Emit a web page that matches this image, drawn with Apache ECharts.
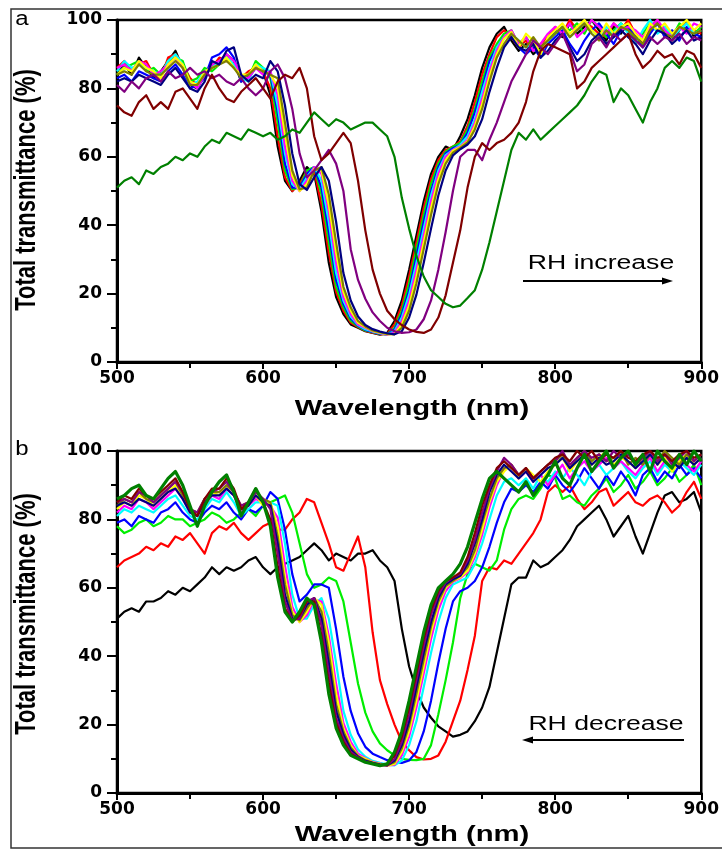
<!DOCTYPE html>
<html>
<head>
<meta charset="utf-8">
<script src="https://cdn.jsdelivr.net/npm/echarts/dist/echarts.min.js"></script>
<style>
html,body{margin:0;padding:0;background:#fff}
#chart{width:722px;height:851px}
</style>
</head>
<body>
<div id="chart"></div>
<script>
// Wavelength grid (nm), shared by every spectrum
const wavelength = [
  500,505,510,515,520,525,530,535,540,545,
  550,555,560,565,570,575,580,585,590,595,
  600,605,610,615,620,625,630,635,640,645,
  650,655,660,665,670,675,680,685,690,695,
  700,705,710,715,720,725,730,735,740,745,
  750,755,760,765,770,775,780,785,790,795,
  800,805,810,815,820,825,830,835,840,845,
  850,855,860,865,870,875,880,885,890,895,
  900
];

const xTicks = [500, 600, 700, 800, 900];
const yTicks = [0, 20, 40, 60, 80, 100];

// Panel a: total transmittance (%) while RH increases
const aBlack = [
  85,87,84,89,86,83,85,88,91,86, 81,80,84,87,88,90,88,82,84,87,
  85,78,63,53,50,53,57,55,44,29, 19,14,11,10,9,8.5,8,8.5,12,18,
  27,37,47,55,60,63,62,66,71,78, 86,92,96,98,94,91,93,90,92,94,
  97,95,99,96,98,100,97,94,98,96, 99,95,93,97,99,96,94,97,100,95, 97];
const aRed = [
  86,88,85,87,88,84,83,89,90,87, 83,81,85,86,89,88,87,83,85,86,
  85,80,66,54,50,52,56,56,46,32, 20.5,15,11.5,10.2,9.1,8.6,8.1,8.2,11,16.5,
  25,35,45,53.5,59,62,63,64.5,69,76, 84,90,95,97,95,92,94,91,93,95,
  98,96,100,97,99,98,96,95,99,97, 100,96,94,98,100,95,96,98,99,97, 96];
const aGreen = [
  84,86,87,88,85,86,84,88,89,88, 82,83,86,85,87,89,86,84,83,88,
  86,83,70,56,50.5,51,56,57,49,35, 22,16,12,10.4,9.2,8.7,8.2,8.1,10,15,
  23,33,43,52,58,61.5,63,64,68,74, 82,89,93,96,97,93,95,92,91,94,
  96,98,97,99,96,100,98,95,97,99, 97,94,96,99,97,98,95,99,97,96, 98];
const aBlue = [
  83,84,82,85,84,83,82,85,87,84, 80,81,83,89,90,92,89,82,83,86,
  85,84,73,58,51,51,55,57,51,38, 24,17,12.7,10.6,9.4,8.8,8.3,8.1,9.5,14,
  21,31,41,50,57,61,62.5,63.5,67,73, 80,88,92,95,96,92,90,92,89,93,
  95,97,93,90,94,97,99,96,93,97, 98,95,92,96,99,95,97,94,98,96, 95];
const aCyan = [
  85,88,86,87,86,85,84,88,90,87, 81,82,85,86,88,89,87,83,82,87,
  86,85,75,61,52,50.5,54,57,53,41, 26,18,13.3,10.8,9.6,8.9,8.4,8.1,9,13,
  19.7,29,39,48.7,56,60.5,62,63.5,66,71, 79,86,92,95,96,94,92,93,90,94,
  96,98,95,97,99,97,95,98,96,99, 96,93,97,100,96,98,95,97,99,96, 97];
const aMagenta = [
  86,87,85,88,87,84,85,87,89,86, 82,80,84,87,88,90,88,84,83,86,
  84,85,78,63,53,50,53,57,55,44, 29,19,14,11,10,9,8.5,8,8.5,12,
  18,27,37,47,55,60,62,63,65,70, 77,85,91,95,97,93,95,91,93,96,
  98,96,99,95,97,100,98,96,99,97, 98,97,95,98,100,97,95,98,96,99, 98];
const aYellow = [
  84,86,85,88,86,85,83,87,89,87, 82,81,85,86,87,89,86,84,84,87,
  85,84,80.5,66.5,54.5,50,52,56.5,56,46, 32,20.5,15,11.5,10.2,9.1,8.6,8.1,8.2,11,
  16.5,25,35,45,53.5,59,61.8,62.8,64.5,69, 75.5,83.5,90,94.5,96.5,92,96,94,90,95,
  97,99,96,98,100,97,95,99,96,98, 99,96,94,99,97,99,96,98,100,97, 99];
const aDarkYellow = [
  84,85,84,87,85,84,84,86,88,86, 81,81,84,86,87,88,86,83,84,86,
  85,84,83,70,56,50.5,51,56,57,49, 35,22,16,12,10.4,9.2,8.7,8.2,8.1,10,
  15,23,33,43,52,58,61.2,62.6,64.2,68, 74,82,89,93,96,94,92,95,92,94,
  96,98,95,97,99,96,94,97,95,98, 97,95,93,97,99,96,95,98,97,96, 97];
const aNavy = [
  82,83,82,84,83,82,81,84,86,83, 80,79,82,88,87,91,92,84,82,84,
  83,88,85,75,61,52,50.3,54,57,53, 41,26,18,13.3,10.8,9.6,8.9,8.4,8.1,9,
  13,19.7,29,39,48.7,56,60.4,62.2,63.6,66, 71,79,86,92,95,92,91,93,89,91,
  94,96,92,88,90,94,96,93,95,97, 95,93,90,94,97,96,93,95,97,94, 95];
const aPurple = [
  81,79,82,80,83,84,82,85,83,84, 86,84,85,83,84,82,81,83,80,78,
  80,85,87,83,74,61,54,56,59,62, 58,50,33,24,18.5,14.5,12,10,9,8.5,
  8.7,9.5,12.5,18,27,38,50,60,62,62, 59,65,70,76,82,86,90,94,92,90,
  93,96,91,85,87,93,95,92,96,94, 96,94,92,95,93,95,94,96,93,95, 94];
const aWine = [
  75,73,72,76,78,74,76,74,79,80, 77,74,80,84,80,77,76,79,81,83,
  80,77,82,84,83,86,80,66,59,61, 64,67,64,53,38.5,27,20,15,12.5,10.8,
  9.5,8.8,8.5,9.5,13,19.5,29,38.5,51,60, 64,62,64,65,67,70,76,85,91,93,
  92,91,90,80,82,86,88,90,92,94, 96,90,86,88,91,89,90,87,91,90, 86];
const aOlive = [
  51,53,54,52,56,55,57,58,60,59, 61,60,63,65,64,67,66,65,68,67,
  66,67,65,66,68,67,70,73,71,69, 71,70,68,69,70,70,68,66,60,48,
  39,31,25,21,19,17,16,16.5,18.7,21, 27,35,44,53,62,67,65,68,65,67,
  69,71,73,75,78,82,85,84,76,80, 78,74,70,76,80,86,88,86,89,88, 82];

// Panel b: total transmittance (%) while RH decreases
const bBlack = [
  51,53,54,53,56,56,57,59,58,60, 59,61,63,66,64,66,65,66,68,69,
  66,64,66,67,68,69,71,73,71,68, 70,69,68,70,70,71,68,66,62,48,
  37,30,25,22,19.5,18,16.5,17,18,21, 25,31,41,51,61,63,63,68,66,67,
  69,71,74,78,80,82,84,80,75,78, 81,75,70,76,82,87,88,85,86,88, 82];
const bRed = [
  66,68,69,70,72,71,73,72,75,74, 76,73,70,76,78,77,79,76,74,76,
  78,79,77,77,80,82,86,85,79,73, 66,65,70,75,66,47,33,26,20,15,
  12.5,10.5,9.8,10,11,15,21,27,36,46, 62,66,65.4,68,67,70,73,76,80,88,
  90,88,90,86,83,85,88,89,84,86, 88,85,84,86,87,85,82,84,88,91, 86];
const bGreen = [
  78,76,77,79,80,78,79,81,80,80, 78,79,80,82,81,79,80,82,83,81,
  84,85,86,87,82,73,64,60,61,63, 62,56,44,32,23.5,18,14.5,12.5,11,10,
  9.7,9.6,10,14,23,33,44,57,64,67, 66,65,68,77,83,86,87,86,89,93,
  92,86,87,85,84,87,89,92,88,90, 93,89,91,94,90,92,95,91,93,96, 90];
const bBlue = [
  79,80,78,81,80,79,82,83,85,82, 80,79,82,84,83,85,82,80,83,82,
  84,88,86,77,64,56,58,61,61,60, 48,34,24,17.5,13.5,11.5,10.5,9.6,9,8.8,
  9.5,12,18,27,38,48,56,59,60,62, 66,72,79,85,89,88,90,88,91,89,
  93,90,88,91,95,92,89,93,90,94, 91,87,93,95,91,94,92,96,93,95, 92];
const bCyan = [
  81,83,82,84,83,82,84,86,87,84, 81,80,83,86,85,88,85,81,83,85,
  85,85,84,73,58,51,51,55,57,51, 38,24,17,12.7,10.6,9.4,8.8,8.3,8.1,9.5,
  14,21,31,41,50,57,61,62,63,67, 73,80,87,91,92,90,92,89,93,91,
  94,92,95,93,90,94,96,93,95,97, 94,92,95,97,93,96,94,97,95,93, 96];
const bMagenta = [
  82,84,83,86,85,83,85,87,89,86, 82,81,84,87,86,89,87,82,84,86,
  85,84,80.5,66.5,54.5,50,52,56.5,56,46, 32,20.5,15,11.5,10.2,9.1,8.6,8.1,8.2,11,
  16.5,25,35,45,53.5,59,61.8,62.8,64.5,69, 75.5,83.5,90,94.5,96,92,94,91,93,90,
  93,96,92,95,97,94,96,98,95,97, 95,93,96,98,94,97,95,98,96,94, 97];
const bYellow = [
  83,85,84,87,86,84,86,88,90,87, 82,82,85,88,87,90,88,83,84,87,
  84,85,78,63,53,50,53,57,55,44, 29,19,14,11,10,9,8.5,8,8.5,12,
  18,27,37,47,55,60,62,63,65,70, 77,85,91,94,96,92,95,93,91,94,
  96,98,94,97,99,96,98,100,96,98, 97,95,98,99,96,98,94,97,99,96, 98];
const bDarkYellow = [
  84,86,85,88,86,85,87,89,91,87, 83,82,86,88,88,90,88,84,85,88,
  86,85,75,61,52,50.5,54,57,53,41, 26,18,13.3,10.8,9.6,8.9,8.4,8.1,9,13,
  19.7,29,39,48.7,56,60.5,62,63.5,66,71, 79,86,92,95,96,93,95,92,94,96,
  97,99,95,98,100,97,99,97,98,100, 96,98,96,99,97,100,98,96,99,97, 99];
const bNavy = [
  84,85,84,86,85,84,86,88,89,86, 82,81,85,87,87,89,87,83,84,87,
  85,84,73,58,51,51,55,57,51,38, 24,17,12.7,10.6,9.4,8.8,8.3,8.1,9.5,14,
  21,31,41,50,57,61,62.5,63.5,67,73, 80,88,93,96,94,92,94,91,93,95,
  96,98,95,97,99,96,98,96,97,99, 97,95,97,99,96,99,97,95,98,96, 98];
const bPurple = [
  85,86,85,88,87,85,87,89,91,88, 83,82,86,88,89,91,88,84,85,88,
  86,83,70,56,50.5,51,56,57,49,35, 22,16,12,10.4,9.2,8.7,8.2,8.1,10,15,
  23,33,43,52,58,61.5,63,64,68,74, 82,89,94,98,96,93,95,92,94,96,
  97,100,96,98,100,98,99,97,100,98, 99,96,98,100,97,99,96,98,100,97, 99];
const bWine = [
  85,87,86,89,87,86,88,90,92,88, 83,81,86,89,89,92,89,83,85,89,
  85,80,66,54,50,52,56,56,46,32, 20.5,15,11.5,10.2,9.1,8.6,8.1,8.2,11,16.5,
  25,35,45,53.5,59,62,63,64.5,69,76, 84,90,95,97,95,93,95,92,94,96,
  98,99,97,100,98,100,97,99,98,100, 98,97,99,100,98,99,97,99,100,98, 99];
const bOlive = [
  86,87,89,90,87,86,89,92,94,90, 84,78,84,88,91,93,88,81,85,89,
  85,78,63,53,50,53,57,55,44,29, 19,14,11,10,9,8.5,8,8.5,12,18,
  27,37,47,55,60,62,64,67,72,79, 86,92,94,92,90,88,91,87,90,93,
  97,92,90,95,99,94,97,100,95,98, 100,96,99,94,100,97,95,99,96,100, 97];

// Origin-style colour increment
const curveColors = ['#000000','#ff0000','#00ee00','#0000ff','#00ffff','#ff00ff',
                     '#ffff00','#808000','#000080','#800080','#800000','#008000'];

const panelA = [aBlack, aRed, aGreen, aBlue, aCyan, aMagenta, aYellow, aDarkYellow, aNavy, aPurple, aWine, aOlive];
const panelB = [bBlack, bRed, bGreen, bBlue, bCyan, bMagenta, bYellow, bDarkYellow, bNavy, bPurple, bWine, bOlive];

const chart = echarts.init(document.getElementById('chart'), null, {renderer: 'canvas'});

function xAxisFor(gi) {
  return {
    type: 'value', gridIndex: gi,
    min: xTicks[0], max: xTicks[xTicks.length - 1], interval: xTicks[1] - xTicks[0],
    axisLine: {onZero: false, lineStyle: {color: '#000', width: 3}},
    axisTick: {inside: false, length: 7, lineStyle: {color: '#000', width: 2}},
    minorTick: {show: true, splitNumber: 2, length: 6, lineStyle: {color: '#000', width: 2}},
    splitLine: {show: false},
    axisLabel: {margin: 8, color: '#000', fontFamily: 'DejaVu Sans', fontWeight: 'bold', fontSize: 17}
  };
}
function yAxisFor(gi) {
  return {
    type: 'value', gridIndex: gi,
    min: yTicks[0], max: yTicks[yTicks.length - 1], interval: yTicks[1] - yTicks[0],
    axisLine: {onZero: false, lineStyle: {color: '#000', width: 3}},
    axisTick: {inside: false, length: 10, lineStyle: {color: '#000', width: 2}},
    minorTick: {show: true, splitNumber: 2, length: 6, lineStyle: {color: '#000', width: 2}},
    splitLine: {show: false},
    axisLabel: {margin: 15, color: '#000', fontFamily: 'DejaVu Sans', fontWeight: 'bold', fontSize: 17}
  };
}

function spectra(list, gi, widths) {
  return list.map((vals, k) => ({
    type: 'line', xAxisIndex: gi, yAxisIndex: gi,
    name: (gi === 0 ? 'a' : 'b') + (k + 1),
    data: wavelength.map((w, i) => [w, vals[i]]),
    symbol: 'none', silent: true, clip: true,
    lineStyle: {color: curveColors[k], width: widths(k), join: 'round'},
    itemStyle: {color: curveColors[k]},
    z: 2 + k
  }));
}

function label(text, x, y, font, sx, extra) {
  return Object.assign({
    type: 'text', x: x, y: y, scaleX: sx, silent: true,
    style: {text: text, x: 0, y: 0, textAlign: 'center', textVerticalAlign: 'middle', font: font, fill: '#000'}
  }, extra || {});
}

const titleFont = 'bold 22px "Liberation Sans", Arial, sans-serif';
const noteFont = '20px "Liberation Sans", Arial, sans-serif';

const option = {
  animation: false,
  backgroundColor: '#ffffff',
  grid: [
    {left: 117, top: 20, width: 588, height: 342, show: true, borderColor: '#000', borderWidth: 2.5, backgroundColor: 'transparent'},
    {left: 117, top: 451, width: 588, height: 342, show: true, borderColor: '#000', borderWidth: 2.5, backgroundColor: 'transparent'}
  ],
  xAxis: [xAxisFor(0), xAxisFor(1)],
  yAxis: [yAxisFor(0), yAxisFor(1)],
  series: [].concat(
    spectra(panelA, 0, () => 2.2),
    spectra(panelB, 1, k => (k === panelB.length - 1 ? 3.2 : 2.2))
  ),
  graphic: [
    {type: 'rect', silent: true, shape: {x: 11, y: 9, width: 720, height: 839},
     style: {fill: 'none', stroke: '#333', lineWidth: 1.5}},
    label('a', 22, 19, '20px "Liberation Sans", Arial, sans-serif', 1.2),
    label('b', 22, 449, '20px "Liberation Sans", Arial, sans-serif', 1.2),
    label('Wavelength (nm)', 412, 409, titleFont, 1.33),
    label('Wavelength (nm)', 412, 835, titleFont, 1.33),
    label('Total transmittance (%)', 27, 190, titleFont, 1, {rotation: Math.PI / 2, scaleY: 1.3}),
    label('Total transmittance (%)', 27, 614, titleFont, 1, {rotation: Math.PI / 2, scaleY: 1.3}),
    label('RH increase', 601, 263, noteFont, 1.33),
    {type: 'line', silent: true, shape: {x1: 523, y1: 281, x2: 664, y2: 281}, style: {stroke: '#000', lineWidth: 2}},
    {type: 'polygon', silent: true, shape: {points: [[673, 281], [662, 277.5], [662, 284.5]]}, style: {fill: '#000'}},
    label('RH decrease', 606, 724, noteFont, 1.33),
    {type: 'line', silent: true, shape: {x1: 531, y1: 740, x2: 684, y2: 740}, style: {stroke: '#000', lineWidth: 2}},
    {type: 'polygon', silent: true, shape: {points: [[522, 740], [533, 736.5], [533, 743.5]]}, style: {fill: '#000'}}
  ]
};

chart.setOption(option);
</script>
</body>
</html>
